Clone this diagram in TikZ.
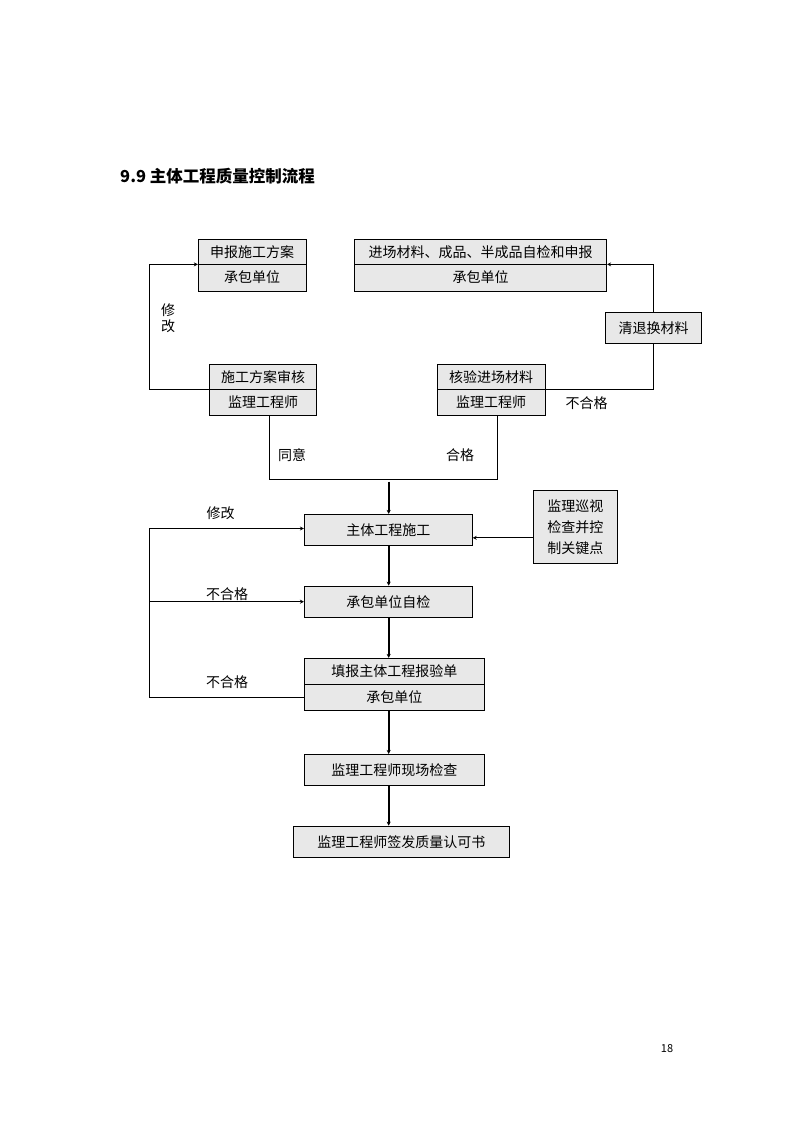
\documentclass[tikz,border=0pt]{standalone}
\usepackage{fontspec}
\setmainfont{Noto Sans CJK SC}
\usetikzlibrary{arrows.meta}
\definecolor{boxgray}{HTML}{E8E8E8}
\newcommand{\boxfont}{\fontsize{14}{16}\selectfont}

\tikzstyle{box} = [draw, fill=boxgray, inner sep=0pt, line width=0.8pt, font=\boxfont]
\tikzstyle{lbl} = [inner sep=0pt, font=\boxfont]
\tikzstyle{line} = [line width=0.8pt]
\tikzstyle{arr} = [line width=0.8pt, -{Stealth[length=4pt,width=4pt]}]
\tikzstyle{mainarr} = [line width=1.8pt, -{Stealth[length=4pt,width=4pt]}]

\begin{document}
\begin{tikzpicture}[x=1pt,y=-1pt]
       \useasboundingbox (0,0) rectangle (794,1123);

       \node[anchor=west, inner sep=0pt, font=\fontsize{16.5}{18}\selectfont\bfseries] (title) at (120,176.5) {9.9 主体工程质量控制流程};

       % top part
       \node[box, minimum width=108, minimum height=24.5] (a1) at (252.2,251.7) {申报施工方案};
       \node[box, minimum width=108, minimum height=27] (a2) at (252.2,277.5) {承包单位};
       \node[box, minimum width=252.4, minimum height=24.5] (b1) at (480.5,251.7) {进场材料、成品、半成品自检和申报};
       \node[box, minimum width=252.4, minimum height=27] (b2) at (480.5,277.5) {承包单位};
       \node[box, minimum width=107.4, minimum height=24.3] (c1) at (263,376.8) {施工方案审核};
       \node[box, minimum width=107.4, minimum height=26.7] (c2) at (263,402.3) {监理工程师};
       \node[box, minimum width=107.7, minimum height=24.3] (d1) at (491.2,376.8) {核验进场材料};
       \node[box, minimum width=107.7, minimum height=26.7] (d2) at (491.2,402.3) {监理工程师};
       \node[box, minimum width=96.4, minimum height=31] (e) at (653.5,327.8) {清退换材料};

       \draw[arr] (c1.south west) -- ++(-59.3,0) |- (a1.south west);
       \node[lbl, align=center, font=\fontsize{14}{16}\selectfont] (xg1) at (168,318) {修\\改};
       \draw[line] (d1.south east) -| (e.south);
       \draw[arr] (e.north) |- (b1.south east);
       \node[lbl] (bhg1) at (586.7,402.7) {不合格};
       \draw[line] ([xshift=6.3]c2.south) -- ++(0,63.6) -| ([xshift=6.1]d2.south);
       \node[lbl] (ty) at (292,455) {同意};
       \node[lbl] (hg) at (460,455) {合格};

       % main flow
       \coordinate (join) at (388.7,481.5);
       \node[box, minimum width=168, minimum height=31] (f) at (388.3,529.8) {主体工程施工};
       \node[box, minimum width=84, minimum height=73, align=left, font=\fontsize{14}{21}\selectfont] (g) at (575.3,526.8) {监理巡视\\检查并控\\制关键点};
       \node[box, minimum width=168, minimum height=31.3] (h) at (388.3,601.7) {承包单位自检};
       \node[box, minimum width=180, minimum height=26] (i1) at (394.3,671.3) {填报主体工程报验单};
       \node[box, minimum width=180, minimum height=26] (i2) at (394.3,697.3) {承包单位};
       \node[box, minimum width=180, minimum height=30.7] (j) at (394.3,769.7) {监理工程师现场检查};
       \node[box, minimum width=216, minimum height=31.3] (k) at (401.3,841.7) {监理工程师签发质量认可书};

       \draw[mainarr] (join) -- (join |- f.north);
       \draw[mainarr] (join |- f.south) -- (join |- h.north);
       \draw[mainarr] (join |- h.south) -- (join |- i1.north);
       \draw[mainarr] (join |- i2.south) -- (join |- j.north);
       \draw[mainarr] (join |- j.south) -- (join |- k.north);
       \draw[arr] ([yshift=-11]g.west) -- ([yshift=-11]g.west -| f.east);

       % loop back on the left
       \coordinate (lt) at (149.3,528.5);
       \draw[line] (i2.west) -| (lt);
       \draw[line width=1.5pt, -{Stealth[length=4pt,width=4pt]}] (lt) -- (lt -| f.west);
       \draw[arr] (lt |- h.west) -- (h.west);
       \node[lbl] (xg2) at (220.7,512.7) {修改};
       \node[lbl] (bhg2) at (227,594) {不合格};
       \node[lbl] (bhg3) at (227,682) {不合格};

       \node[inner sep=0pt, font=\fontsize{11}{12}\selectfont] (pg) at (667,1049) {18};
\end{tikzpicture}
\end{document}
